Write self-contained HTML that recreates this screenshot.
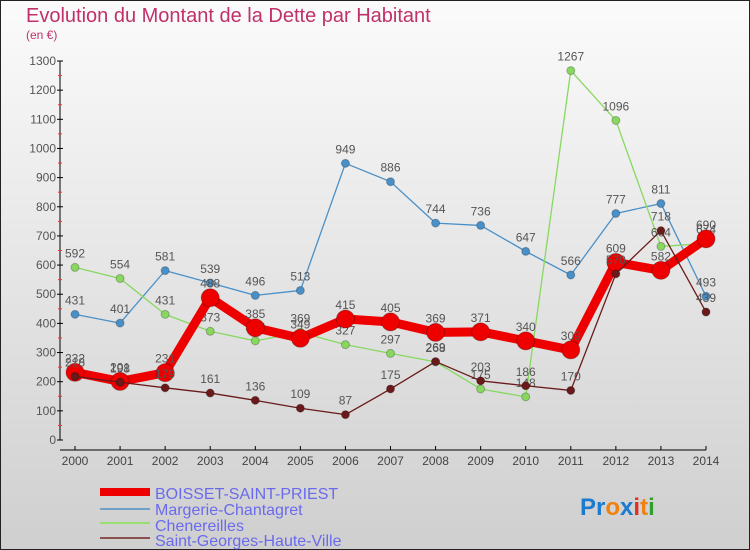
<!DOCTYPE html>
<html><head><meta charset="utf-8"><style>
body{margin:0}
svg{display:block;font-family:"Liberation Sans",sans-serif}
</style></head><body>
<svg id="c" width="750" height="550">
<defs><linearGradient id="bg" x1="0" y1="0" x2="0" y2="1"><stop offset="0" stop-color="#fbfbfb"/><stop offset="1" stop-color="#cfcfcf"/></linearGradient></defs>
<rect x="0.5" y="0.5" width="749" height="549" fill="url(#bg)" stroke="#222"/>
<text x="26" y="22" font-size="20" fill="#c0306a">Evolution du Montant de la Dette par Habitant</text>
<text x="26" y="39" font-size="12" fill="#c0306a">(en €)</text>
<g id="axes"></g><g id="series"></g>
<g>
<rect x="100" y="488" width="50" height="8" fill="#e00"/>
<text x="155" y="499" font-size="16" fill="#6a6aee">BOISSET-SAINT-PRIEST</text>
<rect x="100" y="508" width="50" height="2" fill="#6fa0c8"/>
<text x="155" y="515" font-size="16" fill="#6a6aee">Margerie-Chantagret</text>
<rect x="100" y="522" width="50" height="2" fill="#98de70"/>
<text x="155" y="531" font-size="16" fill="#6a6aee">Chenereilles</text>
<rect x="100" y="537" width="50" height="2" fill="#8a5050"/>
<text x="155" y="546" font-size="16" fill="#6a6aee">Saint-Georges-Haute-Ville</text>
</g>
<text x="580" y="515" font-size="24" font-weight="bold"><tspan fill="#1a7bd0">Pr</tspan><tspan fill="#f08010">o</tspan><tspan fill="#1a7bd0">x</tspan><tspan fill="#e03020">i</tspan><tspan fill="#f08010">t</tspan><tspan fill="#30a030">i</tspan></text>
</svg>
<script>
const years=[2000,2001,2002,2003,2004,2005,2006,2007,2008,2009,2010,2011,2012,2013,2014];
const boisset=[232,201,231,488,385,349,415,405,369,371,340,309,609,582,690];
const margerie=[431,401,581,539,496,513,949,886,744,736,647,566,777,811,493];
const chenereilles=[592,554,431,373,340,369,327,297,268,175,148,1267,1096,664,674];
const saintGeorges=[218,198,179,161,136,109,87,175,269,203,186,170,570,718,439];
const yTicks=[0,100,200,300,400,500,600,700,800,900,1000,1100,1200,1300];
const NS="http://www.w3.org/2000/svg";
const xs=i=>75+i*(706-75)/(years.length-1);
const ys=v=>440-v*(440-61)/1300;
function mk(t,a,p){const e=document.createElementNS(NS,t);for(const k in a)e.setAttribute(k,a[k]);p.appendChild(e);return e;}
const ax=document.getElementById('axes'),sg=document.getElementById('series');
const yl=mk('line',{x1:60,y1:ys(1300),x2:60,y2:440,stroke:'#000'},ax);


yTicks.forEach((v,i)=>{
 mk('line',{x1:57,x2:63,y1:ys(v),y2:ys(v),stroke:'#000'},ax);
 if(i<yTicks.length-1)mk('line',{x1:58,x2:62,y1:ys(v+50),y2:ys(v+50),stroke:'#e33'},ax);
 const t=mk('text',{x:56,y:ys(v)+4,'font-size':12,fill:'#555','text-anchor':'end'},ax);t.textContent=v;
 
 
});
const xl=mk('line',{x1:60,y1:450,x2:706,y2:450,stroke:'#000'},ax);


years.forEach((y,i)=>{
 mk('line',{x1:xs(i),x2:xs(i),y1:446,y2:450,stroke:'#000'},ax);
 const t=mk('text',{x:xs(i),y:465,'font-size':12,fill:'#444','text-anchor':'middle'},ax);t.textContent=y;
 
 
});
function series(data,color,w,r,name){
 const g=mk('g',{},sg);
 
 
 mk('polyline',{points:data.map((v,i)=>xs(i)+','+ys(v)).join(' '),fill:'none',stroke:color,'stroke-width':w,'stroke-linejoin':'round'},g);
 data.forEach((v,i)=>{
  const c=mk('circle',{cx:xs(i),cy:ys(v),r:r,fill:color,stroke:'rgba(0,0,0,0.25)'},g);
  
  
  const t=mk('text',{x:xs(i),y:ys(v)-10,'font-size':12,fill:'#555','text-anchor':'middle'},g);t.textContent=v;
  
  
 });
}
series(margerie,'#4a90c8',1.3,4,'series-margerie');
series(chenereilles,'#88d860',1.3,4,'series-chenereilles');
series(boisset,'#ee0000',9,9,'series-boisset');
series(saintGeorges,'#6a1a1a',1.3,4,'series-saint-georges');
</script>
</body></html>
